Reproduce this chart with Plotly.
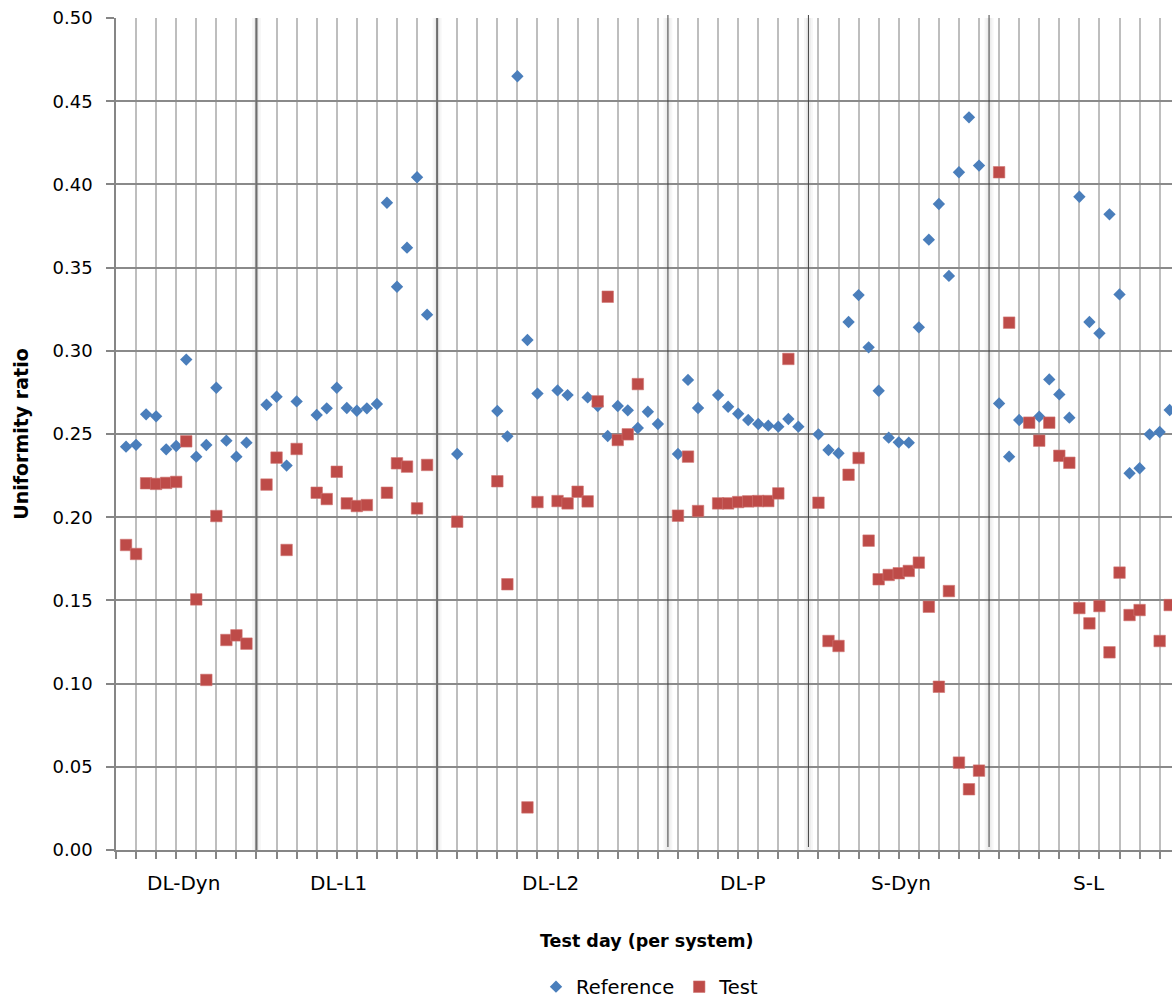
import plotly.graph_objects as go

# ---- data (one entry per test-day slot, None = no measurement / group gap) ----
day_slot = list(range(1, 106))

reference = [
    0.2424, 0.2435, 0.2618, 0.2606, 0.2408, 0.2428, 0.2947, 0.2364, 0.2434, 0.2778, 0.2460, 0.2364, 0.2448,
    None,
    0.2676, 0.2724, 0.2310, 0.2696, None, 0.2614, 0.2654, 0.2778, 0.2656, 0.2640, 0.2654, 0.2680, 0.3890,
    0.3385, 0.3620, 0.4043, 0.3217,
    None, None, 0.2380, None, None, None, 0.2638, 0.2486, 0.4650, 0.3065, 0.2743, None, 0.2762, 0.2734, None,
    0.2720, 0.2668, 0.2488, 0.2668, 0.2642, 0.2536, 0.2634, 0.2560,
    None, 0.2380, 0.2825, 0.2656, None, 0.2734, 0.2664, 0.2622, 0.2584, 0.2560, 0.2550, 0.2544, 0.2590, 0.2544,
    None, 0.2498, 0.2404, 0.2384, 0.3173, 0.3335, 0.3021, 0.2760, 0.2478, 0.2450, 0.2448, 0.3141, 0.3668,
    0.3882, 0.3450, 0.4073, 0.4403, 0.4113,
    None, 0.2684, 0.2364, 0.2584, None, 0.2604, 0.2828, 0.2738, 0.2598, 0.3926, 0.3173, 0.3105, 0.3820,
    0.3339, 0.2264, 0.2294, 0.2498, 0.2512, 0.2644,
]

test = [
    0.1833, 0.1779, 0.2204, 0.2200, 0.2206, 0.2212, 0.2456, 0.1506, 0.1022, 0.2007, 0.1262, 0.1290, 0.1240,
    None,
    0.2196, 0.2358, 0.1803, 0.2410, None, 0.2147, 0.2109, 0.2273, 0.2083, 0.2067, 0.2073, None, 0.2147,
    0.2324, 0.2304, 0.2053, 0.2314,
    None, None, 0.1973, None, None, None, 0.2216, 0.1597, None, 0.0256, 0.2091, None, 0.2097, 0.2083, 0.2153,
    0.2095, 0.2696, 0.3325, 0.2464, 0.2498, 0.2800, None, None,
    None, 0.2009, 0.2364, 0.2037, None, 0.2083, 0.2083, 0.2091, 0.2095, 0.2097, 0.2097, 0.2143, 0.2951, None,
    None, 0.2087, 0.1256, 0.1226, 0.2255, 0.2356, 0.1859, 0.1627, 0.1653, 0.1663, 0.1677, 0.1727, 0.1462,
    0.0981, 0.1556, 0.0525, 0.0365, 0.0477,
    None, 0.4073, 0.3169, None, 0.2568, 0.2460, 0.2568, 0.2369, 0.2327, 0.1454, 0.1362, 0.1466, 0.1188,
    0.1667, 0.1412, 0.1442, None, 0.1256, 0.1472,
]

groups = ["DL-Dyn", "DL-L1", "DL-L2", "DL-P", "S-Dyn", "S-L"]
group_label_slot = [6.7, 22.2, 43.3, 62.4, 78.2, 97.0]
separator_slot = [14, 32, 55, 69, 87]
y_ticks = [0.00, 0.05, 0.10, 0.15, 0.20, 0.25, 0.30, 0.35, 0.40, 0.45, 0.50]

FONT = "DejaVu Sans"
BLUE = "#4A7EBB"
RED = "#BE4B48"

fig = go.Figure()

fig.add_trace(go.Scatter(
    x=day_slot, y=reference, mode="markers", name="Reference",
    marker=dict(symbol="diamond", size=9.5, color=BLUE, line=dict(width=0)),
))
fig.add_trace(go.Scatter(
    x=day_slot, y=test, mode="markers", name="Test",
    marker=dict(symbol="square", size=11.5, color=RED, line=dict(width=0.6, color="#D07573")),
))

shapes = []
for i, s in enumerate(separator_slot):
    # soft shadow
    shapes.append(dict(type="line", xref="x", yref="paper", x0=s, x1=s, y0=0, y1=1,
                       line=dict(color="rgba(0,0,0,0.035)", width=9), layer="between"))
    shapes.append(dict(type="line", xref="x", yref="paper", x0=s, x1=s, y0=0, y1=1,
                       line=dict(color="rgba(0,0,0,0.04)", width=5), layer="between"))
    if i < 2:
        shapes.append(dict(type="line", xref="x", yref="paper", x0=s, x1=s, y0=0, y1=1,
                           line=dict(color="#6E6E6E", width=2), layer="above"))
    else:
        shapes.append(dict(type="line", xref="x", yref="paper", x0=s, x1=s, y0=0.0036, y1=1.0036,
                           line=dict(color="#404040", width=1), layer="above"))

annotations = []
for g, s in zip(groups, group_label_slot):
    annotations.append(dict(x=s, y=-0.0397, xref="x", yref="paper", text=g, showarrow=False,
                            xanchor="center", yanchor="middle",
                            font=dict(family=FONT, size=20, color="#000000")))
annotations.append(dict(x=(646 - 116) / 1056, y=(850 - 941) / 832, xref="paper", yref="paper",
                        text="<b>Test day (per system)</b>", showarrow=False,
                        xanchor="center", yanchor="middle",
                        font=dict(family=FONT, size=17.5, color="#000000")))

fig.update_layout(
    width=1172, height=1000,
    margin=dict(l=116, r=0, t=18, b=150, autoexpand=False),
    paper_bgcolor="white", plot_bgcolor="white",
    font=dict(family=FONT, size=19, color="#000000"),
    showlegend=True,
    legend=dict(orientation="h", x=(650 - 116) / 1056, xanchor="center",
                y=(850 - 987) / 832, yanchor="middle",
                font=dict(family=FONT, size=19.5), itemwidth=30),
    shapes=shapes,
    annotations=annotations,
    xaxis=dict(
        range=[0, 105.23], tick0=0, dtick=2, showticklabels=False,
        showgrid=True, gridcolor="#BEBEBE", gridwidth=1.5,
        zeroline=False, showline=True, linecolor="#868686", linewidth=1.5,
        ticks="outside", ticklen=7, tickcolor="#868686", tickwidth=1.5,
    ),
    yaxis=dict(
        range=[0, 0.5], tickvals=y_ticks, tickformat=".2f",
        showgrid=True, gridcolor="#8A8A8A", gridwidth=1.5,
        zeroline=False, showline=True, linecolor="#868686", linewidth=1.5,
        ticks="outside", ticklen=8, tickcolor="#868686", tickwidth=1.5,
        ticklabelstandoff=10,
        title=dict(text="<b>Uniformity ratio</b>", font=dict(family=FONT, size=19), standoff=19),
        tickfont=dict(family=FONT, size=18),
    ),
)

fig.write_html(
    "out.html",
    config={"displayModeBar": False},
    post_script="document.body.style.margin='0';document.body.style.overflow='hidden';",
)
